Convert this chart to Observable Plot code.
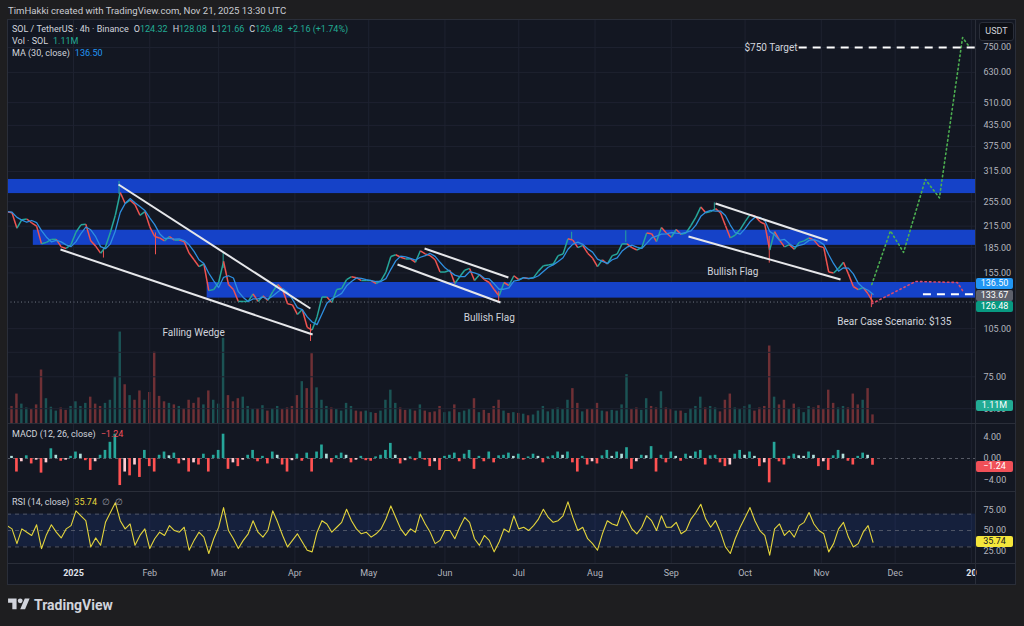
<!DOCTYPE html>
<html><head><meta charset="utf-8">
<script src="https://cdn.jsdelivr.net/npm/d3@7"></script>
<script src="https://cdn.jsdelivr.net/npm/@observablehq/plot@0.6"></script>
<style>
html,body{margin:0;padding:0;}
body{width:1024px;height:626px;background:#1e1e20;overflow:hidden;position:relative;font-family:Roboto,"Noto Sans",sans-serif;color:#d1d4dc;}
#hdr{position:absolute;left:8px;top:5px;font-size:9.6px;color:#c9cbd1;white-space:pre;}
#chart{position:absolute;left:7px;top:19px;width:1009px;height:566px;background:#131722;overflow:hidden;}
#chart svg{position:absolute;left:0;}
.sep{position:absolute;background:#2a2e39;}
.lg{position:absolute;left:5px;font-size:9px;white-space:pre;line-height:11px;color:#d1d4dc;}
.lg span{margin-left:5px;}
.badge{position:absolute;left:969px;width:37px;height:11px;font-size:9px;line-height:11px;text-align:center;border-radius:2px;color:#fff;}
#frame{position:absolute;left:0;top:0;right:0;bottom:0;border:1px solid #2a2e39;box-sizing:border-box;pointer-events:none;}
#usdt{position:absolute;left:972px;top:3px;width:33px;height:17px;line-height:17px;font-size:9px;text-align:center;background:#0d0f15;border:1px solid #2a2e39;border-radius:3px;color:#d1d4dc;}
#logo{position:absolute;left:8px;top:596px;display:flex;align-items:center;gap:4px;color:#d1d4dc;font-weight:700;font-size:14px;}
</style>
</head><body>
<div id="hdr"></div>
<div id="chart"></div>
<div id="logo"><svg width="22" height="17" viewBox="0 0 36 28"><path fill="#d1d4dc" d="M14 22H7V11H0V4h14v18zM28 22h-8l7.5-18h8L28 22z"/><circle fill="#d1d4dc" cx="20" cy="8" r="4"/></svg><span>TradingView</span></div>
<script>
// ---------- DATA (2-day samples, from 2024-12-05) ----------
const closes = [
238,236,212,225,226,220,215,190,192,196,
196,186,184,189,206,217,218,194,187,178,
186,206,232,272,252,258,250,232,238,214,
200,198,194,200,195,195,193,178,170,162,
165,137,138,145,168,143,138,127,127,127,
134,127,132,128,136,143,138,125,124,116,
120,106,104,114,131,131,126,138,139,148,
151,150,147,147,147,144,147,156,174,176,
173,171,171,167,181,177,175,170,156,156,
158,144,151,158,160,147,153,148,145,138,
132,145,142,152,148,150,149,150,157,163,
164,165,175,177,197,195,185,188,178,172,
162,170,165,175,177,190,190,185,182,185,
205,204,193,213,205,199,210,203,205,216,
229,246,236,238,243,236,216,198,202,210,
222,233,231,222,218,182,207,195,186,189,
183,192,194,198,195,187,185,156,155,160,
167,154,141,138,140,134,126.48];
const volumes = [
2.6,2.2,3.8,2.5,2.0,1.8,2.4,6.9,3.2,2.1,
1.6,2.0,1.7,2.2,2.8,2.2,2.6,3.4,2.5,2.2,
2.6,3.0,6.0,11.8,5.0,3.6,3.0,4.2,3.0,4.0,
9.2,3.5,2.8,2.6,2.4,2.2,1.9,3.0,2.6,3.3,
2.4,4.2,3.0,2.5,11.0,3.6,2.8,3.2,3.4,2.2,
1.8,1.9,2.3,1.6,1.9,2.2,1.8,2.0,2.2,3.6,
5.4,4.5,9.0,4.6,3.0,2.2,2.0,1.8,1.6,2.6,
2.2,1.6,1.5,1.6,1.4,1.3,1.6,3.0,4.3,2.6,
2.0,1.7,1.8,1.6,2.4,1.6,1.4,1.5,2.2,1.4,
1.5,2.4,1.4,1.6,1.8,3.2,1.4,1.7,1.3,2.2,
3.0,1.6,1.3,1.4,1.3,1.2,1.0,1.1,1.6,2.2,
1.5,1.8,2.0,1.8,3.0,4.5,2.6,1.5,1.8,1.8,
2.6,1.6,1.5,1.7,1.6,2.4,6.3,1.8,2.0,1.7,
3.2,2.2,2.0,4.1,2.0,1.8,1.6,1.6,1.3,1.9,
2.2,3.4,2.0,2.2,2.0,1.5,3.0,3.8,2.0,1.8,
2.2,2.4,1.6,2.0,2.2,10.0,3.4,2.4,3.0,1.8,
2.5,2.0,1.4,2.2,2.0,2.3,1.8,4.3,2.6,2.0,
2.2,2.0,3.8,2.4,3.0,4.5,1.11];
const macdHist = [
1.2,0.4,-2.5,-0.6,0.5,-1.0,-0.3,-2.7,-0.8,1.8,
0.6,-0.5,-0.3,0.4,1.2,0.8,-0.4,-2.2,-0.6,0.6,
1.5,3.0,4.5,-5.0,-2.5,-3.2,-1.2,-3.5,1.5,-1.5,
-2.5,0.6,1.2,0.5,1.0,-1.0,-0.4,-2.5,-0.8,-1.2,
0.8,-2.5,0.6,1.5,4.5,-2.0,-0.8,-1.5,-0.3,0.6,
1.5,-0.6,0.4,-1.0,1.2,0.6,-1.2,-2.5,-0.4,0.8,
-0.5,1.0,-2.5,1.2,2.5,0.8,-0.8,0.5,1.0,0.6,
-0.8,-0.3,0.4,-0.4,-0.5,0.3,0.6,1.5,2.8,0.6,
-1.0,-0.4,0.3,-0.4,1.2,-0.3,-1.5,-0.6,-2.2,0.4,
0.6,1.0,-0.6,0.8,1.5,-2.0,0.4,-0.6,1.2,-0.8,
0.5,0.6,1.0,0.4,0.8,-0.3,0.3,0.8,0.4,-0.8,
0.3,0.5,1.2,0.6,1.2,-0.8,-2.5,0.4,-1.2,-0.6,
-1.0,0.5,1.5,0.4,1.2,0.8,2.0,-2.0,-0.6,0.6,
0.5,2.2,-2.5,0.6,-0.8,1.2,0.4,-0.5,0.8,0.4,
1.2,1.5,-1.2,0.5,0.6,-0.8,-1.5,-1.2,0.8,1.5,
0.6,1.2,0.4,-1.5,-0.8,-4.5,3.0,-0.6,-1.2,0.4,
0.8,0.5,0.4,1.2,0.6,-1.5,-0.6,-2.2,0.5,1.5,
0.8,-0.5,-1.2,0.4,1.0,0.6,-1.24];
const rsiValues = [
56,52,34,52,48,44,57,28,45,57,
48,41,52,56,74,68,62,30,41,32,
60,72,84,62,52,58,32,44,52,28,
40,48,44,56,50,48,54,26,38,48,
42,22,40,54,78,50,40,28,38,46,
62,48,42,50,74,60,44,30,38,46,
36,26,24,48,62,58,48,54,60,76,
62,52,46,48,42,46,52,64,80,66,
52,44,52,48,70,58,48,34,38,50,
50,40,54,66,60,40,32,44,38,24,
36,52,48,68,52,54,50,56,64,76,
66,60,62,68,85,66,50,54,40,34,
26,46,62,58,56,74,64,52,46,54,
68,62,50,68,54,54,60,46,50,64,
72,82,64,54,62,48,30,22,40,54,
66,78,62,50,44,20,52,58,44,50,
42,56,60,72,58,50,46,24,34,52,
60,42,30,34,48,56,35.74];
const wicks = [
 {date:"2025-01-13T04:00Z", from:184, to:172},
 {date:"2025-01-19T12:00Z", from:268, to:294},
 {date:"2025-02-03T08:00Z", from:205, to:176},
 {date:"2025-03-02T20:00Z", from:160, to:178},
 {date:"2025-04-07T08:00Z", from:108, to:96},
 {date:"2025-06-22T20:00Z", from:136, to:126},
 {date:"2025-07-22T12:00Z", from:195, to:206},
 {date:"2025-08-13T12:00Z", from:192, to:208},
 {date:"2025-09-18T12:00Z", from:242, to:253},
 {date:"2025-10-10T20:00Z", from:200, to:166},
 {date:"2025-11-21T08:00Z", from:134, to:121.66}];
const zones = [
 {from:"2024-12-05T04:00Z", lo:270, hi:298},
 {from:"2024-12-15T16:00Z", lo:188, hi:209},
 {from:"2025-02-24T08:00Z", lo:130, hi:145}];
const trendlines = [
 {t1:"2025-01-19T07:00Z", p1:287.7, t2:"2025-04-07T07:00Z", p2:120.9},
 {t1:"2024-12-26T17:00Z", p1:182.6, t2:"2025-04-08T05:00Z", p2:100.8},
 {t1:"2025-05-23T17:00Z", p1:183.9, t2:"2025-06-26T19:00Z", p2:150.2},
 {t1:"2025-05-12T17:00Z", p1:164.5, t2:"2025-06-23T14:00Z", p2:126.1},
 {t1:"2025-09-19T00:00Z", p1:251.9, t2:"2025-11-03T12:00Z", p2:194.5},
 {t1:"2025-09-08T00:00Z", p1:200.0, t2:"2025-11-08T19:00Z", p2:148.0}];
const bullPath = [["2025-11-21T12:00Z",143],["2025-11-29T02:00Z",208],["2025-12-04T10:00Z",179],["2025-12-13T07:00Z",298],["2025-12-19T00:00Z",262],["2025-12-28T10:00Z",804],["2025-12-30T19:00Z",760]];
const bearPath = [["2025-11-21T12:00Z",125],["2025-12-09T07:00Z",146],["2025-12-26T07:00Z",145],["2025-12-28T10:00Z",137]];
const levels = [{from:"2025-10-23T00:00Z", price:750}, {from:"2025-12-12T12:00Z", price:133.67}];
const notes = [
 {t:"2025-02-18T20:00Z", p:102, text:"Falling Wedge"},
 {t:"2025-06-19T00:00Z", p:113.5, text:"Bullish Flag"},
 {t:"2025-09-26T00:00Z", p:156.6, text:"Bullish Flag"},
 {t:"2025-11-30T16:00Z", p:110.4, text:"Bear Case Scenario: $135"}];
const targetNote = {t:"2025-10-22T08:00Z", p:750, text:"$750 Target"};
const priceTicks = [750,630,510,435,375,315,255,215,185,155,105,89,75,60];
const monthTicks = ["2025-01-01","2025-02-01","2025-03-01","2025-04-01","2025-05-01","2025-06-01","2025-07-01","2025-08-01","2025-09-01","2025-10-01","2025-11-01","2025-12-01","2026-01-01"];
const monthLabels = ["2025","Feb","Mar","Apr","May","Jun","Jul","Aug","Sep","Oct","Nov","Dec","20"];
const boldLabels = ["2025","20"];
const ohlc = {O:"124.32", H:"128.08", L:"121.66", C:"126.48", chg:"+2.16 (+1.74%)"};
const lastClose = 126.48, maLast = 136.50, bearLevel = 133.67, volLast = "1.11M", macdLast = -1.24, rsiLast = 35.74;
const headerText = "TimHakki created with TradingView.com, Nov 21, 2025 13:30 UTC";

// ---------- BUILD ----------
const UP = "#26a69a", DOWN = "#ef5350";
const DAY = 864e5;
const xMin = new Date("2024-12-05T04:00:00Z"), xMax = new Date("2026-01-02T16:00:00Z");
const W = 1009, MR = 41;
const font = "Roboto, 'Noto Sans', sans-serif";
const data = closes.map((c,i)=>({date:new Date(Date.UTC(2024,11,5)+i*2*DAY), close:c, up: i ? c>=closes[i-1] : true,
  vol:volumes[i], macd:macdHist[i], macdPrev: i ? macdHist[i-1] : 0, rsi:rsiValues[i]}));
const segs = data.slice(1).map((d,i)=>({x1:data[i].date, y1:data[i].close, x2:d.date, y2:d.close, up:d.up}));
const months = monthTicks.map(s=>new Date(s+"T00:00:00Z"));
const monthData = months.map((d,i)=>({date:d, label:monthLabels[i]}));
const halfVol = 12*3600e3, halfMacd = 13*3600e3;
const grid = "#1e2230";
const baseStyle = {background:"transparent", color:"#b2b5be", fontSize:"9px", fontFamily:font, overflow:"visible"};
const xOpt = {type:"utc", domain:[xMin,xMax], axis:null, label:null};

document.getElementById("hdr").textContent = headerText;
const chart = document.getElementById("chart");

// volume (under price)
const volPlot = Plot.plot({width:W, height:93, marginLeft:0, marginRight:MR, marginTop:0, marginBottom:0,
  style:baseStyle, x:xOpt, y:{domain:[0,12], axis:null, label:null}, color:{type:"identity"},
  marks:[Plot.rectY(data, {x1:d=>new Date(+d.date-halfVol), x2:d=>new Date(+d.date+halfVol), y:"vol",
    fill:d=>d.up?UP:DOWN, fillOpacity:0.42})]});
volPlot.style.top = "311px";
chart.appendChild(volPlot);

const price = Plot.plot({width:W, height:404, marginLeft:0, marginRight:MR, marginTop:0, marginBottom:0,
  style:baseStyle, x:xOpt, y:{type:"log", domain:[54.1,912], axis:null, label:null}, color:{type:"identity"},
  marks:[
    Plot.ruleX(months, {stroke:grid}),
    Plot.ruleY(priceTicks, {stroke:grid}),
    Plot.rect(zones, {x1:d=>new Date(d.from), x2:()=>xMax, y1:"lo", y2:"hi", fill:"#1542c8"}),
    Plot.ruleY([lastClose], {x1:xMin, x2:xMax, stroke:"#8a8f9c", strokeDasharray:"1,2.5", strokeOpacity:0.8}),
    Plot.ruleX(wicks, {x:d=>new Date(d.date), y1:"from", y2:"to", stroke:d=>d.to<d.from?DOWN:UP, strokeWidth:1}),
    Plot.link(segs, {x1:"x1", y1:"y1", x2:"x2", y2:"y2", stroke:d=>d.up?UP:DOWN, strokeWidth:1.5}),
    Plot.lineY(data, Plot.windowY({k:3, anchor:"end", reduce:"mean"}, {x:"date", y:"close", stroke:"#2e8fe0", strokeWidth:1.3})),
    Plot.link(trendlines, {x1:d=>new Date(d.t1), y1:"p1", x2:d=>new Date(d.t2), y2:"p2", stroke:"#e6e7ea", strokeWidth:2}),
    Plot.line(bearPath, {x:d=>new Date(d[0]), y:d=>d[1], stroke:"#d64a6e", strokeWidth:1.6, strokeDasharray:"1.5,3", strokeLinecap:"round"}),
    Plot.line(bullPath, {x:d=>new Date(d[0]), y:d=>d[1], stroke:"#4caf50", strokeWidth:1.6, strokeDasharray:"1.5,3", strokeLinecap:"round"}),
    Plot.ruleY(levels, {x1:d=>new Date(d.from), x2:()=>xMax, y:"price", stroke:"#ffffff", strokeWidth:2, strokeDasharray:"8,6"}),
    Plot.text(notes, {x:d=>new Date(d.t), y:"p", text:"text", fill:"#d1d4dc", fontSize:10}),
    Plot.text([targetNote], {x:d=>new Date(d.t), y:"p", text:"text", fill:"#d1d4dc", fontSize:10, textAnchor:"end"}),
    Plot.axisY(priceTicks, {anchor:"right", label:null, tickSize:0, tickPadding:8, tickFormat:d=>d.toFixed(2)})
  ]});
price.style.top = "0px";
chart.appendChild(price);

const macdPlot = Plot.plot({width:W, height:68, marginLeft:0, marginRight:MR, marginTop:0, marginBottom:0,
  style:baseStyle, x:xOpt, y:{domain:[-6.1,6.48], axis:null, label:null}, color:{type:"identity"},
  marks:[
    Plot.ruleX(months, {stroke:grid}),
    Plot.ruleY([0], {stroke:"#787b86", strokeDasharray:"3,3", strokeOpacity:0.7}),
    Plot.rectY(data, {x1:d=>new Date(+d.date-halfMacd), x2:d=>new Date(+d.date+halfMacd), y:"macd",
      fill:d=>d.macd>=0 ? (d.macd>=d.macdPrev?"#26a69a":"#b2dfdb") : (d.macd<d.macdPrev?"#ff5252":"#ffcdd2")}),
    Plot.axisY([4,0,-4], {anchor:"right", label:null, tickSize:0, tickPadding:8, tickFormat:d=>(d<0?"\u2212":"")+Math.abs(d).toFixed(2)})
  ]});
macdPlot.style.top = "404px";
chart.appendChild(macdPlot);

const rsiPlot = Plot.plot({width:W, height:94, marginLeft:0, marginRight:MR, marginTop:0, marginBottom:22,
  style:baseStyle, x:xOpt, y:{domain:[9.8,97.6], axis:null, label:null},
  marks:[
    Plot.ruleX(months, {stroke:grid}),
    Plot.rect([{lo:30, hi:70}], {x1:xMin, x2:xMax, y1:"lo", y2:"hi", fill:"#2962ff", fillOpacity:0.12}),
    Plot.ruleY([70,50,30], {stroke:"#787b86", strokeDasharray:"4,4", strokeOpacity:0.6}),
    Plot.line(data, {x:"date", y:"rsi", stroke:"#e3d43c", strokeWidth:1.1}),
    Plot.axisY([75,50,25], {anchor:"right", label:null, tickSize:0, tickPadding:8, tickFormat:d=>d.toFixed(2)}),
    Plot.text(monthData.filter(d=>!boldLabels.includes(d.label)), {x:"date", text:"label", frameAnchor:"bottom", dy:12, fill:"#b2b5be", fontSize:9}),
    Plot.text(monthData.filter(d=>boldLabels.includes(d.label)), {x:"date", text:"label", frameAnchor:"bottom", dy:12, fill:"#e0e3eb", fontSize:9, fontWeight:"bold"})
  ]});
rsiPlot.style.top = "472px";
chart.appendChild(rsiPlot);

// separators & frame
function div(cls, css, html){ const e=document.createElement("div"); e.className=cls; e.style.cssText=css; if(html!=null) e.innerHTML=html; chart.appendChild(e); return e; }
div("sep","left:0;top:404px;width:100%;height:1px;");
div("sep","left:0;top:472px;width:100%;height:1px;");
div("sep","left:0;top:544px;width:100%;height:1px;");
div("sep","left:968px;top:0;width:1px;height:100%;");
div("", "", null).id = "frame";

// legends
const teal = "#22ab94";
div("lg","top:5px;", `SOL / TetherUS · 4h · Binance<span>O<b style="font-weight:400;color:${teal}">${ohlc.O}</b></span><span>H<b style="font-weight:400;color:${teal}">${ohlc.H}</b></span><span>L<b style="font-weight:400;color:${teal}">${ohlc.L}</b></span><span>C<b style="font-weight:400;color:${teal}">${ohlc.C}</b></span><span style="color:${teal}">${ohlc.chg}</span>`);
div("lg","top:17px;", `Vol · SOL<span style="color:${teal}">${volLast}</span>`);
div("lg","top:29px;", `MA (30, close)<span style="color:#2196f3">${maLast.toFixed(2)}</span>`);
div("lg","top:410px;", `MACD (12, 26, close)<span style="color:#f0525c">\u2212${Math.abs(macdLast).toFixed(2)}</span>`);
div("lg","top:478px;", `RSI (14, close)<span style="color:#e3d43c">${rsiLast.toFixed(2)}</span><span style="color:#9598a1">\u2205</span><span style="color:#9598a1">\u2205</span>`);
div("","", "USDT").id = "usdt";

// right-axis badges
const ys = price.scale("y");
const group = [{v:maLast, bg:"#2196f3"},{v:bearLevel, bg:"#5d606b"},{v:lastClose, bg:"#089981"}];
const mean = d3.mean(group, g=>ys.apply(g.v));
group.forEach((g,i)=>{ const c = mean + (i-1)*11.5; div("badge", `top:${c-5.5}px;background:${g.bg};`, g.v.toFixed(2)); });
div("badge", `top:381px;background:#22ab94;`, volLast);
div("badge", `top:${404+macdPlot.scale("y").apply(macdLast)-4}px;background:#f05058;`, "\u2212"+Math.abs(macdLast).toFixed(2));
div("badge", `top:${472+rsiPlot.scale("y").apply(rsiLast)-5.5}px;background:#f5e63b;color:#131722;`, rsiLast.toFixed(2));
</script>
</body></html>
